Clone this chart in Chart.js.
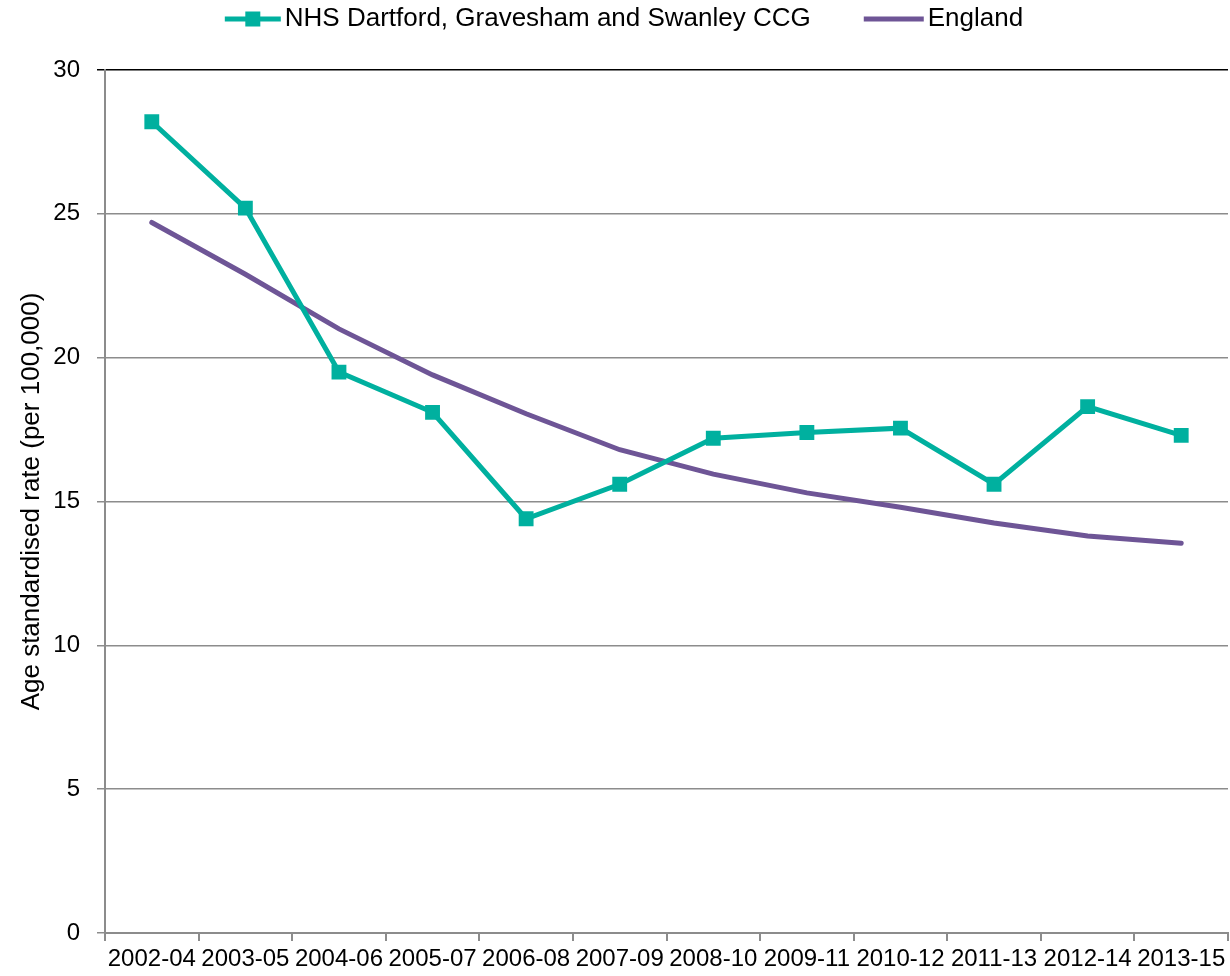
<!DOCTYPE html>
<html>
<head>
<meta charset="utf-8">
<script src="https://cdn.jsdelivr.net/npm/chart.js@4"></script>
<style>
  html, body { margin: 0; padding: 0; background: #fff; }
  #wrap { width: 1230px; height: 976px; }
</style>
</head>
<body>
<div id="wrap"><canvas id="chart" width="1230" height="976"></canvas></div>
<script>
// periods on the x axis
const periods = ["2002-04", "2003-05", "2004-06", "2005-07", "2006-08", "2007-09",
  "2008-10", "2009-11", "2010-12", "2011-13", "2012-14", "2013-15"];

// age standardised rate per 100,000
const ccgRates = [28.2, 25.2, 19.5, 18.1, 14.4, 15.6, 17.2, 17.4, 17.55, 15.6, 18.3, 17.3];
const englandRates = [24.7, 22.9, 21.0, 19.4, 18.05, 16.8, 15.95, 15.3, 14.8, 14.25, 13.8, 13.55];

const yTicks = [0, 5, 10, 15, 20, 25, 30];

const teal = "#00B09F";
const purple = "#6E5596";
const greyLine = "#8C8C8C";
const fontName = "'Liberation Sans', Arial, sans-serif";

// legend drawn by hand so it sits where the original one does
const legendPlugin = {
  id: "topLegend",
  afterDraw(chart) {
    let c = chart.ctx;
    let sets = chart.data.datasets;
    c.save();
    c.font = "26px " + fontName;
    c.textBaseline = "middle";
    let iconW = [56, 60];
    let widths = sets.map(d => c.measureText(d.label).width);
    let total = iconW[0] + 4 + widths[0] + 53 + iconW[1] + 4 + widths[1];
    let x = 624 - total / 2;
    let y = 19;
    sets.forEach((ds, i) => {
      c.strokeStyle = ds.borderColor;
      c.lineWidth = 5;
      c.beginPath(); c.moveTo(x, y); c.lineTo(x + iconW[i], y); c.stroke();
      if (i === 0) {
        c.fillStyle = ds.borderColor;
        c.fillRect(x + iconW[i] / 2 - 7.5, y - 7.5, 15, 15);
      }
      x += iconW[i] + 4;
      c.fillStyle = "#000";
      c.fillText(ds.label, x, y);
      x += widths[i] + 53;
    });
    c.restore();
  }
};

let ctx = document.getElementById("chart").getContext("2d");

new Chart(ctx, {
  type: "line",
  data: {
    labels: periods,
    datasets: [
      {
        label: "NHS Dartford, Gravesham and Swanley CCG",
        data: ccgRates,
        borderColor: teal,
        backgroundColor: teal,
        borderWidth: 5,
        pointStyle: "rect",
        pointRadius: 10.5,
        pointHoverRadius: 10.5,
        pointBorderWidth: 0,
        tension: 0
      },
      {
        label: "England",
        data: englandRates,
        borderColor: purple,
        backgroundColor: purple,
        borderWidth: 5,
        borderCapStyle: "round",
        pointRadius: 0,
        tension: 0
      }
    ]
  },
  plugins: [legendPlugin],
  options: {
    responsive: false,
    animation: false,
    layout: { autoPadding: false, padding: { top: 70, right: 2, left: 0, bottom: 0 } },
    plugins: {
      tooltip: { enabled: false },
      legend: { display: false }
    },
    scales: {
      x: {
        offset: true,
        afterFit: s => { s.height = 43; s.paddingLeft = 0; s.paddingRight = 0; },
        grid: {
          offset: true,
          drawOnChartArea: false,
          drawTicks: true,
          tickLength: 8,
          color: greyLine,
          lineWidth: 2
        },
        border: { color: greyLine, width: 2 },
        ticks: {
          color: "#000",
          padding: 4,
          maxRotation: 0,
          autoSkip: false,
          font: { family: fontName, size: 24 }
        }
      },
      y: {
        min: 0,
        max: 30,
        afterFit: s => { s.width = 105; },
        afterBuildTicks: s => { s.ticks = yTicks.map(v => ({ value: v })); },
        grid: {
          tickLength: 8,
          color: c => (c.tick && c.tick.value === 30) ? "#000" : greyLine,
          lineWidth: 1.5
        },
        border: { color: greyLine, width: 2 },
        title: {
          display: true,
          text: "Age standardised rate (per 100,000)",
          color: "#000",
          padding: { top: 16, bottom: 0 },
          font: { family: fontName, size: 26 }
        },
        ticks: {
          color: "#000",
          padding: 17,
          font: { family: fontName, size: 24 }
        }
      }
    }
  }
});
</script>
</body>
</html>
